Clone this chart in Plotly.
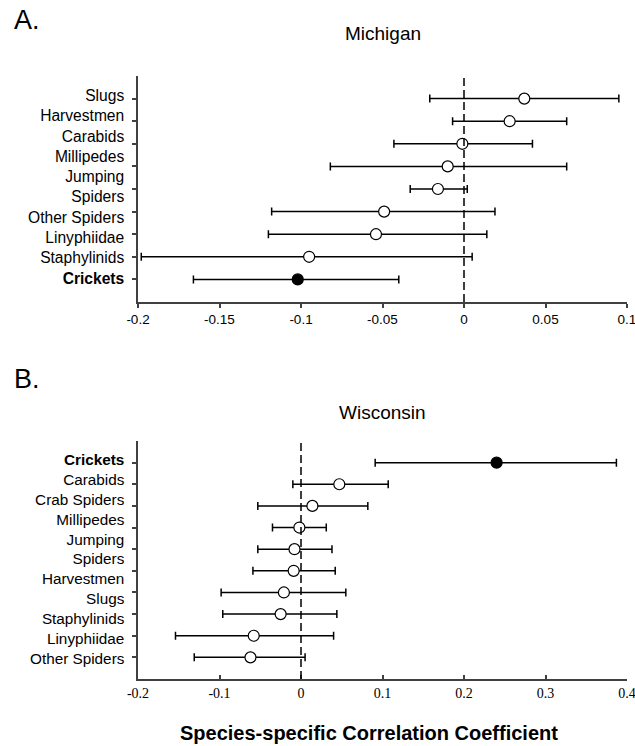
import plotly.graph_objects as go

# ---------------- data ----------------
mi_species = ["Slugs", "Harvestmen", "Carabids", "Millipedes", "Jumping Spiders",
              "Other Spiders", "Linyphiidae", "Staphylinids", "Crickets"]
mi_r = [0.037, 0.028, -0.001, -0.010, -0.016, -0.049, -0.054, -0.095, -0.102]
mi_lo = [-0.021, -0.007, -0.043, -0.082, -0.033, -0.118, -0.120, -0.198, -0.166]
mi_hi = [0.095, 0.063, 0.042, 0.063, 0.002, 0.019, 0.014, 0.005, -0.040]

wi_species = ["Crickets", "Carabids", "Crab Spiders", "Millipedes", "Jumping Spiders",
              "Harvestmen", "Slugs", "Staphylinids", "Linyphiidae", "Other Spiders"]
wi_r = [0.240, 0.047, 0.014, -0.002, -0.008, -0.009, -0.021, -0.025, -0.058, -0.062]
wi_lo = [0.091, -0.010, -0.053, -0.035, -0.053, -0.059, -0.098, -0.096, -0.154, -0.131]
wi_hi = [0.387, 0.107, 0.082, 0.031, 0.038, 0.042, 0.055, 0.044, 0.040, 0.005]

mi_xticks = [-0.2, -0.15, -0.1, -0.05, 0, 0.05, 0.1]
mi_xticktext = ["-0.2", "-0.15", "-0.1", "-0.05", "0", "0.05", "0.1"]
wi_xticks = [-0.2, -0.1, 0, 0.1, 0.2, 0.3, 0.4]
wi_xticktext = ["-0.2", "-0.1", "0", "0.1", "0.2", "0.3", "0.4"]

focal = "Crickets"

W, H = 635, 746
SANS = "Liberation Sans, Arial, sans-serif"
SERIF = "Liberation Serif, Times New Roman, serif"
AX = "#404040"


def panel_trace(species, r, lo, hi, xa, ya):
    n = len(species)
    ypos = [n - i for i in range(n)]
    return go.Scatter(
        x=r, y=ypos, xaxis=xa, yaxis=ya, mode="markers",
        marker=dict(symbol="circle", size=11,
                    color=["black" if s == focal else "white" for s in species],
                    line=dict(color="black", width=1.2)),
        error_x=dict(type="data", symmetric=False,
                     array=[h - v for h, v in zip(hi, r)],
                     arrayminus=[v - l for v, l in zip(r, lo)],
                     color="black", thickness=1.5, width=4),
        showlegend=False, hoverinfo="skip", cliponaxis=False,
    )


def label_block(species):
    out = []
    for s in species:
        s2 = s.replace("Jumping Spiders", "Jumping<br>Spiders")
        out.append(f"<b>{s2}</b>" if s == focal else s2)
    return "<br>".join(out)


fig = go.Figure()
fig.add_trace(panel_trace(mi_species, mi_r, mi_lo, mi_hi, "x", "y"))
fig.add_trace(panel_trace(wi_species, wi_r, wi_lo, wi_hi, "x2", "y2"))

xdom = [138 / W, 627 / W]
ydomA = [1 - 302 / H, 1 - 76 / H]
ydomB = [1 - 679 / H, 1 - 441 / H]

common_x = dict(showline=True, linecolor=AX, linewidth=1.5, showgrid=False,
                zeroline=False, tickcolor=AX, tickwidth=1.5, fixedrange=True,
                automargin=False, ticklabeloverflow="allow")
common_y = dict(showline=True, linecolor=AX, linewidth=1.5, showgrid=False,
                zeroline=False, ticks="outside", ticklen=4, tickcolor=AX,
                tickwidth=1.5, showticklabels=False, fixedrange=True,
                automargin=False)

fig.update_layout(
    template="none",
    width=W, height=H, margin=dict(l=0, r=0, t=0, b=0, pad=0),
    plot_bgcolor="white", paper_bgcolor="white",
    xaxis=dict(domain=xdom, anchor="y", range=[-0.2, 0.1],
               tickvals=mi_xticks, ticktext=mi_xticktext,
               ticks="outside", ticklen=4,
               tickfont=dict(family=SANS, size=13.5, color="black"), **common_x),
    yaxis=dict(domain=ydomA, anchor="x", range=[0, len(mi_species) + 1],
               tickvals=list(range(1, len(mi_species) + 1)), **common_y),
    xaxis2=dict(domain=xdom, anchor="y2", range=[-0.2, 0.4],
                tickvals=wi_xticks, ticktext=wi_xticktext,
                ticks="inside", ticklen=4,
                tickfont=dict(family=SERIF, size=14, color="black"), **common_x),
    yaxis2=dict(domain=ydomB, anchor="x2", range=[0, len(wi_species) + 1],
                tickvals=list(range(1, len(wi_species) + 1)), **common_y),
)

# dashed zero reference lines
for xr, yr in (("x", "y domain"), ("x2", "y2 domain")):
    fig.add_shape(type="line", xref=xr, yref=yr, x0=0, x1=0, y0=0, y1=1,
                  line=dict(color="black", width=1.5, dash="8px,4px"))

ann = [
    dict(text="A.", x=12 / W, y=1 - 20 / H, xanchor="left", yanchor="middle",
         font=dict(family=SANS, size=27)),
    dict(text="Michigan", x=383 / W, y=1 - 33 / H, xanchor="center", yanchor="middle",
         font=dict(family=SANS, size=19)),
    dict(text="B.", x=12 / W, y=1 - 379 / H, xanchor="left", yanchor="middle",
         font=dict(family=SANS, size=27)),
    dict(text="Wisconsin", x=383 / W, y=1 - 412 / H, xanchor="center", yanchor="middle",
         font=dict(family=SANS, size=19)),
    dict(text=label_block(mi_species), x=127 / W, y=1 - 187 / H, xanchor="right",
         yanchor="middle", align="right", font=dict(family=SANS, size=15.6)),
    dict(text=label_block(wi_species), x=127 / W, y=1 - 559 / H, xanchor="right",
         yanchor="middle", align="right", font=dict(family=SANS, size=15.3)),
    dict(text="<b>Species-specific Correlation Coefficient</b>", x=369 / W, y=1 - 733 / H,
         xanchor="center", yanchor="middle", font=dict(family=SANS, size=20)),
]
for a in ann:
    a.update(xref="paper", yref="paper", showarrow=False)
    a["font"].setdefault("color", "black")
fig.update_layout(annotations=ann)

fig.write_html("out.html", config={"displayModeBar": False},
               post_script="document.body.style.margin='0';document.body.style.overflow='hidden';")
